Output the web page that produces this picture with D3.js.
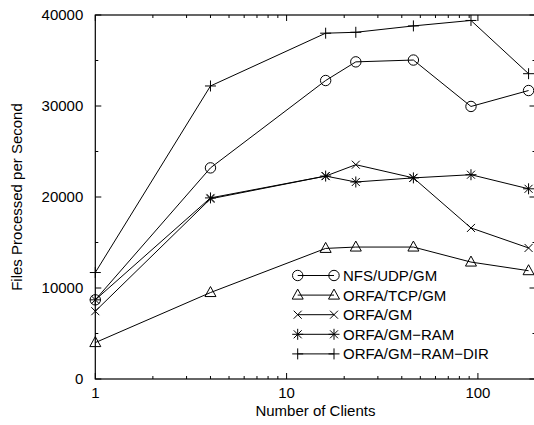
<!DOCTYPE html>
<html>
<head>
<meta charset="utf-8">
<script src="https://cdn.jsdelivr.net/npm/d3@7"></script>
<style>
  body { margin: 0; background: #fff; }
  svg { display: block; }
  text { font-family: "Liberation Sans", Arial, Helvetica, sans-serif; font-size: 15px; fill: #000; }
</style>
</head>
<body>
<svg width="534" height="425"></svg>
<script>
const clients = [1, 4, 16, 23, 46, 92, 184];

const nfsUdpGm      = [8700, 23200, 32800, 34850, 35050, 29950, 31700];
const orfaTcpGm     = [4000, 9500, 14350, 14500, 14500, 12850, 11900];
const orfaGm        = [7450, 19800, 22300, 23550, 22100, 16600, 14400];
const orfaGmRam     = [8700, 19900, 22300, 21650, 22100, 22450, 20900];
const orfaGmRamDir  = [11700, 32200, 38000, 38100, 38800, 39400, 33550];

const seriesNames = ["NFS/UDP/GM", "ORFA/TCP/GM", "ORFA/GM", "ORFA/GM\u2212RAM", "ORFA/GM\u2212RAM\u2212DIR"];
const seriesMarks = ["circle", "triangle", "cross", "star", "plus"];
const yTicks = [0, 10000, 20000, 30000, 40000];
const xTicks = [1, 10, 100];

const series = [nfsUdpGm, orfaTcpGm, orfaGm, orfaGmRam, orfaGmRamDir].map((vals, i) => ({
  name: seriesNames[i],
  mark: seriesMarks[i],
  values: vals.map((v, j) => ({x: clients[j], y: v}))
}));

const svg = d3.select("svg");
const mLeft = 95.3, mRight = 535.5, mTop = 15, mBottom = 379;

const x = d3.scaleLog().domain([1, 200]).range([mLeft, mRight]);
const y = d3.scaleLinear().domain([0, 40000]).range([mBottom, mTop]);

// marker shapes, centred at 0,0
function markPath(type) {
  const p = d3.path();
  if (type === "circle") {
    p.moveTo(5.2, 0); p.arc(0, 0, 5.2, 0, 2 * Math.PI);
  } else if (type === "triangle") {
    p.moveTo(0, -6); p.lineTo(5.5, 4); p.lineTo(-5.5, 4); p.closePath();
  } else if (type === "cross") {
    p.moveTo(-4, -4); p.lineTo(4, 4); p.moveTo(-4, 4); p.lineTo(4, -4);
  } else if (type === "star") {
    p.moveTo(-4, -4); p.lineTo(4, 4); p.moveTo(-4, 4); p.lineTo(4, -4);
    p.moveTo(-5.5, 0); p.lineTo(5.5, 0); p.moveTo(0, -5.5); p.lineTo(0, 5.5);
  } else {
    p.moveTo(-5.5, 0); p.lineTo(5.5, 0); p.moveTo(0, -5.5); p.lineTo(0, 5.5);
  }
  return p.toString();
}

// frame
svg.append("rect")
  .attr("x", mLeft).attr("y", mTop)
  .attr("width", mRight - mLeft).attr("height", mBottom - mTop)
  .attr("fill", "none").attr("stroke", "#000").attr("stroke-width", 1.2);

// y ticks (major + minor), mirrored on right
const gTicks = svg.append("g").attr("stroke", "#000").attr("stroke-width", 1);
d3.range(0, 40001, 5000).forEach(v => {
  const len = v % 10000 === 0 ? 6 : 3;
  gTicks.append("line").attr("x1", mLeft).attr("x2", mLeft + len).attr("y1", y(v)).attr("y2", y(v));
  gTicks.append("line").attr("x1", mRight).attr("x2", mRight - len).attr("y1", y(v)).attr("y2", y(v));
});
// x ticks (log), mirrored on top
const xMinor = [];
[1, 10, 100].forEach(d => { for (let k = 1; k <= 9; k++) if (d * k <= 200) xMinor.push(d * k); });
xMinor.forEach(v => {
  const len = xTicks.includes(v) ? 6 : 3;
  gTicks.append("line").attr("x1", x(v)).attr("x2", x(v)).attr("y1", mBottom).attr("y2", mBottom - len);
  gTicks.append("line").attr("x1", x(v)).attr("x2", x(v)).attr("y1", mTop).attr("y2", mTop + len);
});

// tick labels
svg.append("g").selectAll("text").data(yTicks).join("text")
  .attr("x", mLeft - 12).attr("y", d => y(d)).attr("dy", "0.35em")
  .attr("text-anchor", "end").text(d => d);
svg.append("g").selectAll("text").data(xTicks).join("text")
  .attr("x", d => x(d)).attr("y", 398)
  .attr("text-anchor", "middle").text(d => d);

// axis titles
svg.append("text").attr("x", (mLeft + mRight) / 2).attr("y", 416)
  .attr("text-anchor", "middle").text("Number of Clients");
svg.append("text").attr("transform", `translate(22, ${(mTop + mBottom) / 2})rotate(-90)`)
  .attr("text-anchor", "middle").text("Files Processed per Second");

// lines + markers
const line = d3.line().x(d => x(d.x)).y(d => y(d.y));
const gSeries = svg.append("g").selectAll("g").data(series).join("g");
gSeries.append("path")
  .attr("d", d => line(d.values))
  .attr("fill", "none").attr("stroke", "#000").attr("stroke-width", 1);
gSeries.each(function (s) {
  d3.select(this).selectAll(".mk").data(s.values).join("path")
    .attr("class", "mk")
    .attr("transform", d => `translate(${x(d.x)},${y(d.y)})`)
    .attr("d", markPath(s.mark))
    .attr("fill", "none").attr("stroke", "#000").attr("stroke-width", 1);
});

// legend
const lg = svg.append("g").selectAll("g").data(series).join("g")
  .attr("transform", (d, i) => `translate(0, ${275.5 + i * 19.6})`);
lg.append("line").attr("x1", 297.7).attr("x2", 334).attr("y1", 0).attr("y2", 0)
  .attr("stroke", "#000").attr("stroke-width", 1);
lg.append("path").attr("transform", "translate(297.7,0)").attr("d", d => markPath(d.mark))
  .attr("fill", "none").attr("stroke", "#000");
lg.append("path").attr("transform", "translate(334,0)").attr("d", d => markPath(d.mark))
  .attr("fill", "none").attr("stroke", "#000");
lg.append("text").attr("x", 343).attr("y", 0).attr("dy", "0.36em").text(d => d.name);
</script>
</body>
</html>
